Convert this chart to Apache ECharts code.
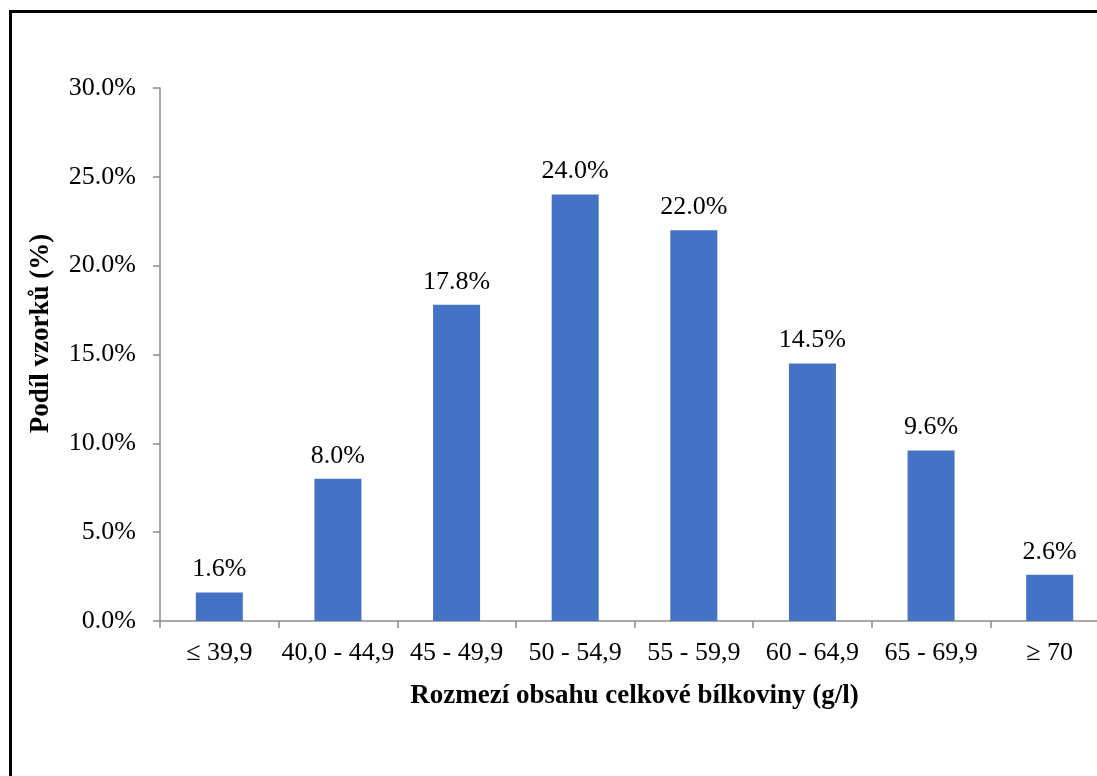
<!DOCTYPE html>
<html>
<head>
<meta charset="utf-8">
<script src="https://cdn.jsdelivr.net/npm/echarts@6/dist/echarts.min.js"></script>
<style>
  html, body { margin: 0; padding: 0; background: #fff; }
  #chart { width: 1097px; height: 776px; }
</style>
</head>
<body>
<div id="chart"></div>
<script>
// Protein content ranges (g/l) and share of samples in each range (%)
const categories = ['≤ 39,9', '40,0 - 44,9', '45 - 49,9', '50 - 54,9', '55 - 59,9', '60 - 64,9', '65 - 69,9', '≥ 70'];
const shares = [1.6, 8.0, 17.8, 24.0, 22.0, 14.5, 9.6, 2.6];
const yTicks = [0, 5, 10, 15, 20, 25, 30];

const serif = '"Liberation Serif", "Times New Roman", serif';
const axisGray = '#8c8c8c';

const chart = echarts.init(document.getElementById('chart'));
chart.setOption({
  animation: false,
  backgroundColor: '#ffffff',
  graphic: [{
    type: 'rect',
    shape: { x: 10.5, y: 11.5, width: 1300, height: 1000 },
    style: { fill: 'none', stroke: '#000', lineWidth: 3 },
    silent: true
  }],
  grid: { left: 160, top: 88, width: 949, height: 533, outerBoundsMode: 'none', containLabel: false },
  xAxis: {
    type: 'category',
    data: categories,
    name: 'Rozmezí obsahu celkové bílkoviny (g/l)',
    nameLocation: 'middle',
    nameGap: 62,
    nameTextStyle: { fontFamily: serif, fontSize: 27, fontWeight: 'bold', color: '#000' },
    axisLine: { lineStyle: { color: axisGray, width: 1.5 } },
    axisTick: { show: true, length: 7, lineStyle: { color: axisGray, width: 1.5 } },
    axisLabel: { fontFamily: serif, fontSize: 26, color: '#000', margin: 19, interval: 0 }
  },
  yAxis: {
    type: 'value',
    min: yTicks[0],
    max: yTicks[yTicks.length - 1],
    interval: 5,
    name: 'Podíl vzorků (%)',
    nameLocation: 'middle',
    nameGap: 105,
    nameRotate: 90,
    nameTextStyle: { fontFamily: serif, fontSize: 27, fontWeight: 'bold', color: '#000', padding: [0, 0, 0, 42] },
    axisLine: { show: true, lineStyle: { color: axisGray, width: 1.5 } },
    axisTick: { show: true, inside: false, length: 7, lineStyle: { color: axisGray, width: 1.5 } },
    splitLine: { show: false },
    axisLabel: {
      fontFamily: serif, fontSize: 26, color: '#000', margin: 24,
      formatter: v => v.toFixed(1) + '%'
    }
  },
  series: [{
    type: 'bar',
    data: shares,
    barWidth: 47,
    itemStyle: { color: '#4472C4' },
    label: {
      show: true,
      position: 'top',
      distance: 10,
      fontFamily: serif,
      fontSize: 26,
      color: '#000',
      formatter: p => p.value.toFixed(1) + '%'
    }
  }]
});
</script>
</body>
</html>
